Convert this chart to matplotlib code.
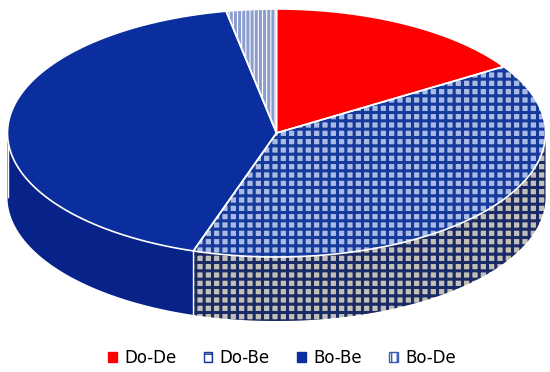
import numpy as np
import matplotlib.pyplot as plt
from matplotlib.patches import Polygon, Patch

labels = ["Do-De", "Do-Be", "Bo-Be", "Bo-De"]
shares = [16, 39, 42, 3]

top_face = ["#FF0000", "#A9BBE3", "#0A2E9E", "#FFFFFF"]
top_hatch = [None, "++", None, "||||"]
top_hcol = [None, "#16399C", None, "#8C9ED0"]
side_face = ["#D00000", "#C2BFB6", "#07238A", "#E6E8F0"]
side_hatch = [None, "++", None, "||||"]
side_hcol = [None, "#1A2A66", None, "#8C9ED0"]
legend_hatch = [None, "++", None, "|||"]
legend_edge = ["#FF0000", "#16399C", "#0A2E9E", "#3A5AB8"]

# layout of the projected pie (pixels)
cx, cy, a, b, depth = 276.5, 133, 269, 124, 64

plt.rcParams["font.family"] = ["DejaVu Sans"]
plt.rcParams["hatch.linewidth"] = 2.2

fig = plt.figure(figsize=(5.5, 3.72), dpi=100)
ax = fig.add_axes([0, 0, 1, 1])
ax.set_xlim(0, 550)
ax.set_ylim(372, 0)
ax.axis("off")

edges = 90 - 3.6 * np.concatenate([[0], np.cumsum(shares)])


def rim(t1, t2, n=200):
    t = np.radians(np.linspace(t1, t2, n))
    return cx + a * np.cos(t), cy - b * np.sin(t)


def draw(xy, face, hatch, hcol, z):
    ax.add_patch(Polygon(xy, closed=True, facecolor=face, edgecolor="none", zorder=z))
    if hatch:
        ax.add_patch(Polygon(xy, closed=True, facecolor="none", edgecolor=hcol,
                             hatch=hatch, linewidth=0, zorder=z + 0.1))


# sides (front half only)
for i in range(len(shares)):
    t_start, t_end = edges[i], edges[i + 1]
    lo, hi = max(t_end, -180), min(t_start, 0)
    if lo >= hi:
        continue
    x, y = rim(hi, lo)
    xy = np.column_stack([np.r_[x, x[::-1]], np.r_[y, y[::-1] + depth]])
    draw(xy, side_face[i], side_hatch[i], side_hcol[i], 1)
    # vertical seam where slices meet on the side
    ax.plot([x[-1], x[-1]], [y[-1], y[-1] + depth], color="white", lw=1, zorder=1.5)

# tops
for i in range(len(shares)):
    x, y = rim(edges[i], edges[i + 1])
    xy = np.column_stack([np.r_[cx, x], np.r_[cy, y]])
    draw(xy, top_face[i], top_hatch[i], top_hcol[i], 2)
    ax.add_patch(Polygon(xy, closed=True, facecolor="none", edgecolor="white",
                         linewidth=1.2, zorder=3))

plt.rcParams["hatch.linewidth"] = 1.0
handles = [Patch(facecolor=top_face[i] if i != 1 else "white", edgecolor=legend_edge[i],
                 hatch=legend_hatch[i], linewidth=1) for i in range(len(labels))]
fig.legend(handles, labels, loc="center", bbox_to_anchor=(0.513, 0.038), ncol=4,
           frameon=False, fontsize=12, handlelength=0.5, handleheight=0.5,
           handletextpad=0.45, columnspacing=1.65, borderpad=0.2)

fig.savefig("out.png", dpi=100)
